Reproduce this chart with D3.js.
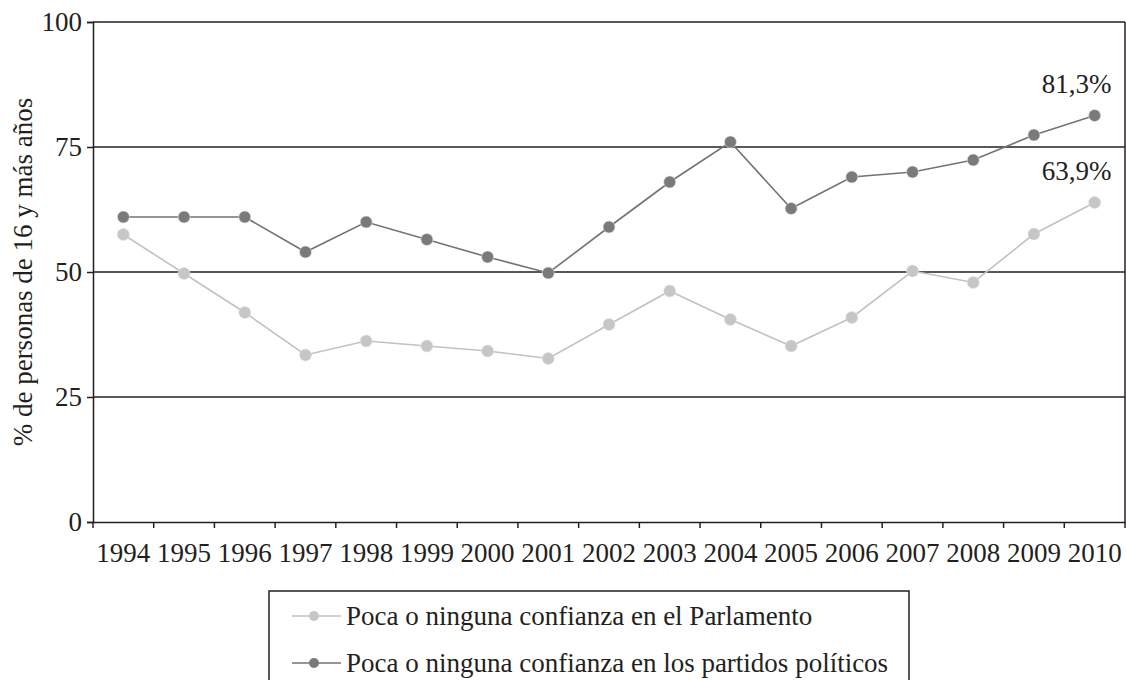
<!DOCTYPE html>
<html>
<head>
<meta charset="utf-8">
<script src="https://cdn.jsdelivr.net/npm/d3@7"></script>
<style>
	body{margin:0;background:#fff;}
	svg{display:block;font-family:'Liberation Serif','Times New Roman',serif;}
</style>
</head>
<body>
<svg class="lineChart" width="1126" height="680"></svg>
<script>
// data
var years = ['1994','1995','1996','1997','1998','1999','2000','2001','2002','2003','2004','2005','2006','2007','2008','2009','2010'];
var parlamento = [57.5,49.7,41.9,33.4,36.2,35.2,34.2,32.7,39.5,46.2,40.5,35.2,40.9,50.2,47.9,57.6,63.9];
var partidos = [61,61,61,54,60,56.5,53,49.8,59,68,76,62.7,69,70,72.4,77.4,81.3];
var yTicks = [0,25,50,75,100];
var seriesNames = ['Poca o ninguna confianza en el Parlamento','Poca o ninguna confianza en los partidos políticos'];
var endLabels = ['63,9%','81,3%'];

var config = {
	left : 93,
	right : 1125,
	top : 22,
	bottom : 522,
	ink : '#231f20',
	lineColors : ['#c2c2c2','#737373'],
	dotColors : ['#c6c6c6','#7a7a7a'],
	fontSize : 27
};

var svg = d3.select('.lineChart');

var xScale = d3.scaleBand()
				.domain(years)
				.range([config.left,config.right]);

var yScale = d3.scaleLinear()
				.domain([0,100])
				.range([config.bottom,config.top]);

//gridlines
svg.append('g')
	.selectAll('line')
	.data(yTicks.slice(1))
	.enter()
	.append('line')
	.attr('x1',config.left)
	.attr('x2',config.right)
	.attr('y1',d=>yScale(d))
	.attr('y2',d=>yScale(d))
	.attr('stroke',config.ink)
	.attr('stroke-width',1.5);

//right border
svg.append('line')
	.attr('x1',config.right).attr('x2',config.right)
	.attr('y1',config.top).attr('y2',config.bottom)
	.attr('stroke',config.ink)
	.attr('stroke-width',1.5);

//y axis
var yAxis = svg.append('g')
	.attr('transform','translate('+config.left+',0)')
	.call(d3.axisLeft(yScale).tickValues(yTicks).tickSize(6).tickPadding(5));

//x axis, ticks on band edges
var xAxis = svg.append('g')
	.attr('transform','translate(0,'+config.bottom+')')
	.call(d3.axisBottom(xScale).tickSize(0).tickPadding(21));

xAxis.selectAll('.edge')
	.data(years.concat(['end']))
	.enter()
	.append('line')
	.attr('class','edge')
	.attr('x1',(d,i)=>config.left+i*xScale.step())
	.attr('x2',(d,i)=>config.left+i*xScale.step())
	.attr('y1',0)
	.attr('y2',6)
	.attr('stroke',config.ink)
	.attr('stroke-width',1.5);

[xAxis,yAxis].forEach(function(ax){
	ax.select('.domain').attr('stroke',config.ink).attr('stroke-width',1.5);
	ax.selectAll('.tick line').attr('stroke',config.ink).attr('stroke-width',1.5);
	ax.selectAll('text')
		.attr('font-family','Liberation Serif')
		.attr('font-size',config.fontSize)
		.attr('fill',config.ink);
});

//axis title
svg.append('text')
	.text('% de personas de 16 y más años')
	.attr('transform','translate(32,'+((config.top+config.bottom)/2)+') rotate(-90)')
	.attr('text-anchor','middle')
	.attr('font-size',config.fontSize)
	.attr('fill',config.ink);

//series
var cx = d=>xScale(d)+xScale.bandwidth()/2;
var lineGen = d3.line()
				.x((d,i)=>cx(years[i]))
				.y(d=>yScale(d));

[parlamento,partidos].forEach(function(values,s){
	var g = svg.append('g');
	g.append('path')
		.attr('d',lineGen(values))
		.attr('fill','none')
		.attr('stroke',config.lineColors[s])
		.attr('stroke-width',1.6);
	g.selectAll('circle')
		.data(values)
		.enter()
		.append('circle')
		.attr('cx',(d,i)=>cx(years[i]))
		.attr('cy',d=>yScale(d))
		.attr('r',6)
		.attr('fill',config.dotColors[s])
		.attr('stroke','#e0e0e0')
		.attr('stroke-width',0.6);

	//end label
	var last = values.length-1;
	svg.append('text')
		.text(endLabels[s])
		.attr('x',cx(years[last])-18)
		.attr('y',yScale(values[last])-23)
		.attr('text-anchor','middle')
		.attr('font-size',config.fontSize)
		.attr('fill',config.ink);
});

//legend
var legend = svg.append('g').attr('transform','translate(269,591)');
legend.append('rect')
	.attr('width',640)
	.attr('height',110)
	.attr('fill','none')
	.attr('stroke',config.ink)
	.attr('stroke-width',1.5);

var items = legend.selectAll('.item')
	.data(seriesNames)
	.enter()
	.append('g')
	.attr('class','item')
	.attr('transform',(d,i)=>'translate(0,'+(25+i*47)+')');

items.append('line')
	.attr('x1',23).attr('x2',72)
	.attr('stroke',(d,i)=>config.lineColors[i])
	.attr('stroke-width',1.6);
items.append('circle')
	.attr('cx',45)
	.attr('r',5)
	.attr('fill',(d,i)=>config.dotColors[i]);
items.append('text')
	.text(d=>d)
	.attr('x',77)
	.attr('dy','0.33em')
	.attr('font-size',config.fontSize)
	.attr('fill',config.ink);
</script>
</body>
</html>
